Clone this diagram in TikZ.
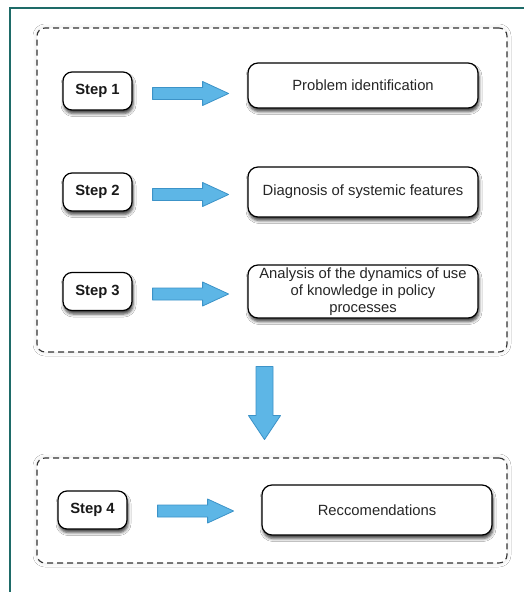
\documentclass[tikz,border=0pt]{standalone}
\usepackage{fontspec}
\setmainfont{Liberation Sans}
\usetikzlibrary{shadows.blur,calc}
\definecolor{frameteal}{HTML}{1E6B68}
\definecolor{arrowfill}{HTML}{5DB6E6}
\definecolor{arrowline}{HTML}{3C93C8}
\begin{document}
\begin{tikzpicture}[x=1pt,y=-1pt,
  boxshadow/.style={blur shadow={shadow xshift=1pt, shadow yshift=-3.5pt, shadow blur radius=3pt, shadow opacity=75}},
  stepbox/.style={draw=black, line width=1.2pt, rounded corners=9pt, fill=white,
    minimum width=69pt, minimum height=38pt, inner sep=0pt,
    font=\fontsize{14.8}{17}\selectfont\bfseries, text=black!90, boxshadow},
  textbox/.style={draw=black, line width=1.2pt, rounded corners=10pt, fill=white,
    minimum width=230pt, inner sep=0pt, align=center,
    font=\fontsize{14.8}{17}\selectfont, text=black!85, boxshadow},
  dashbox/.style={draw=black!80, line width=1.1pt, dash pattern=on 6pt off 4pt,
    rounded corners=8pt, fill=white,
    blur shadow={shadow xshift=0pt, shadow yshift=0pt, shadow blur radius=4pt, shadow opacity=12}},
  bluearrow/.style={fill=arrowfill, draw=arrowline, line width=0.8pt, line join=round}
]
\useasboundingbox (0,0) rectangle (523,592);
\fill[white] (0,0) rectangle (523,592);
% frame
\draw[frameteal, line width=2pt] (10,640) -- (10,8) -- (560,8);

% dashed groups
\node[dashbox, minimum width=470pt, minimum height=324pt] (g1) at (272,190) {};
\node[dashbox, minimum width=470pt, minimum height=105pt] (g2) at (272,510.5) {};

% step boxes
\node[stepbox] (s1) at (97.5,91) {Step 1};
\node[stepbox] (s2) at (97.5,192) {Step 2};
\node[stepbox] (s3) at (97.5,291.5) {Step 3};
\node[stepbox] (s4) at (92.5,510) {Step 4};

% text boxes
\node[textbox, minimum height=45pt] (p1) at (363,85.5) {Problem identification};
\node[textbox, minimum height=50pt] (p2) at (363,192) {Diagnosis of systemic features};
\node[textbox, minimum height=53pt] (p3) at (363,291.5) {Analysis of the dynamics of use\\of knowledge in policy\\processes};
\node[textbox, minimum height=50pt] (p4) at (377,510) {Reccomendations};

% horizontal arrows
\foreach \s/\dx/\dy in {s1/20/2.5, s2/20/2.5, s3/20/2.5, s4/30/1}{
  \draw[bluearrow] ($(\s.east)+(\dx,\dy)$) ++(0,-6) -- ++(50,0) -- ++(0,-6)
    -- ++(26,12) -- ++(-26,12) -- ++(0,-6) -- ++(-50,0) -- cycle;
}

% vertical arrow between groups
\coordinate (dtop) at ($(g1.south)+(-7.5,14)$);
\draw[bluearrow] (dtop) ++(-8.5,0) -- ++(0,49) -- ++(-7.5,0) -- ++(16,24)
  -- ++(16,-24) -- ++(-7.5,0) -- ++(0,-49) -- cycle;
\end{tikzpicture}
\end{document}
